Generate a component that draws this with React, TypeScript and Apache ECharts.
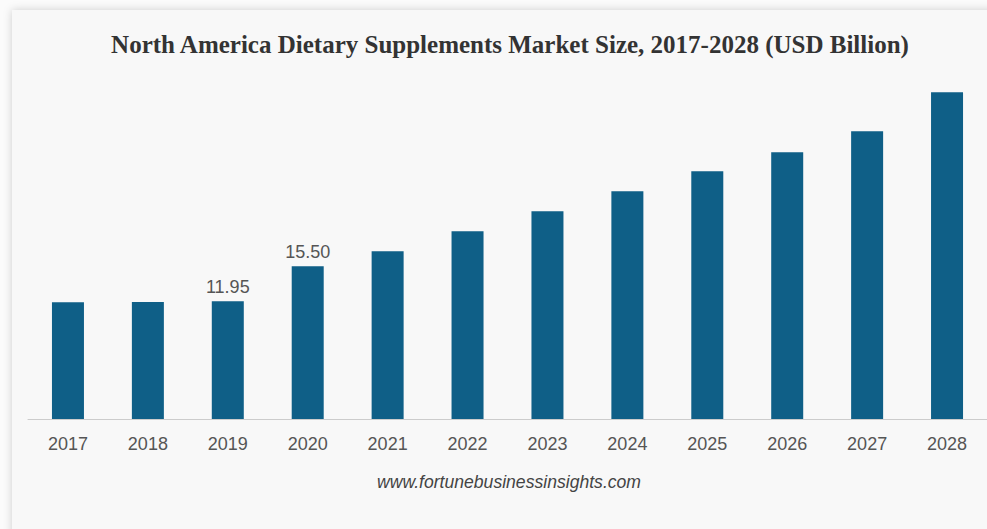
import React, { useEffect, useRef } from "react";
import * as echarts from "echarts";

const years = ["2017", "2018", "2019", "2020", "2021", "2022", "2023", "2024", "2025", "2026", "2027", "2028"];
const marketSize = [11.85, 11.87, 11.95, 15.5, 17.02, 19.05, 21.07, 23.1, 25.13, 27.05, 29.18, 33.13];
const labeledYears = ["2019", "2020"];

export default function App() {
  const ref = useRef<HTMLDivElement>(null);
  useEffect(() => {
    if (!ref.current) return;
    const chart = echarts.init(ref.current, null, { renderer: "svg" });
    chart.setOption({
      animation: false,
      backgroundColor: "#fbfbfb",
      title: {
        text: "North America Dietary Supplements Market Size, 2017-2028 (USD Billion)",
        left: 505,
        top: 27,
        textAlign: "center",
        textStyle: { fontFamily: "Liberation Serif", fontWeight: "bold", fontSize: 25, color: "#333" },
      },
      graphic: [
        {
          type: "rect",
          z: -10,
          shape: { x: 12, y: 10, width: 1000, height: 540 },
          style: { fill: "#f8f8f8", shadowBlur: 8, shadowColor: "rgba(0,0,0,0.18)", shadowOffsetX: 0, shadowOffsetY: 0 },
          silent: true,
        },
        {
          type: "text",
          left: 377,
          top: 473,
          style: {
            text: "www.fortunebusinessinsights.com",
            font: "italic 17.6px 'Liberation Sans'",
            fill: "#444",
          },
        },
      ],
      grid: { left: 28, width: 964, top: 64, bottom: 110 },
      xAxis: {
        type: "category",
        data: years,
        axisLine: { lineStyle: { color: "#cccccc", width: 1 } },
        axisTick: { show: false },
        axisLabel: { fontFamily: "Liberation Sans", fontSize: 18, color: "#555", margin: 16 },
      },
      yAxis: {
        type: "value",
        min: 0,
        max: 36,
        show: false,
        splitLine: { show: false },
      },
      series: [
        {
          type: "bar",
          data: marketSize.map((v, i) => ({
            value: v,
            label: {
              show: labeledYears.includes(years[i]),
              position: "top",
              formatter: (p: any) => p.value.toFixed(2),
              fontFamily: "Liberation Sans",
              fontSize: 18,
              color: "#555",
              distance: 5,
            },
          })),
          barWidth: 32,
          itemStyle: { color: "#0f5f87" },
        },
      ],
    });
    return () => chart.dispose();
  }, []);
  return (
    <div style={{ position: "absolute", left: 0, top: 0, width: 987, height: 529 }}>
      <div ref={ref} style={{ width: 987, height: 529 }} />
    </div>
  );
}
